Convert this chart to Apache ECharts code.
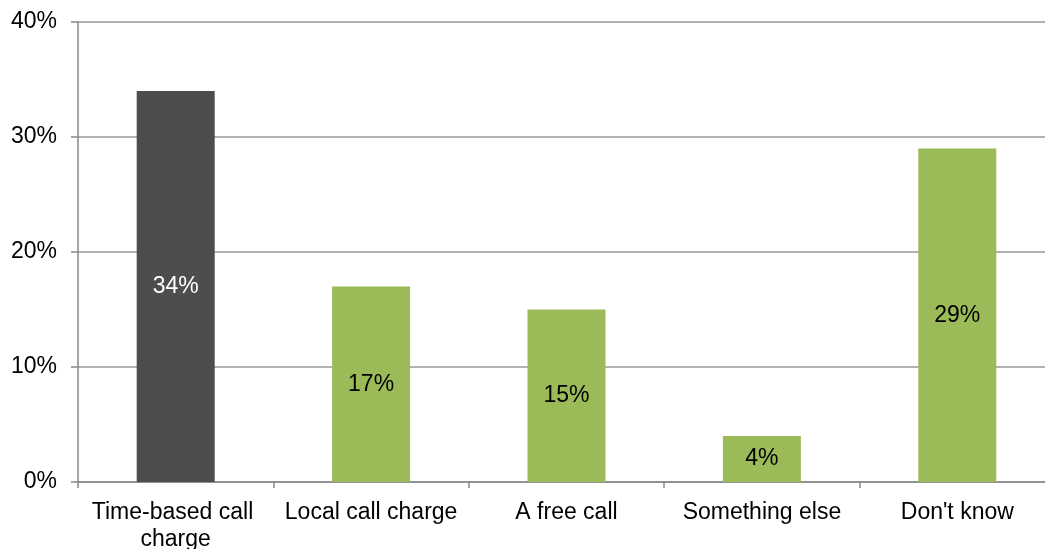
<!DOCTYPE html>
<html>
<head>
<meta charset="utf-8">
<script src="https://cdn.jsdelivr.net/npm/echarts@6/dist/echarts.min.js"></script>
<style>
  html, body { margin: 0; padding: 0; background: #fff; }
  #chart { width: 1045px; height: 549px; }
</style>
</head>
<body>
<div id="chart"></div>
<script>
const categories = ['Time-based call charge', 'Local call charge', 'A free call', 'Something else', "Don't know"];
const values = [34, 17, 15, 4, 29];
const barColors = ['#4d4d4f', '#9bbb59', '#9bbb59', '#9bbb59', '#9bbb59'];
const labelColors = ['#ffffff', '#000000', '#000000', '#000000', '#000000'];

const chart = echarts.init(document.getElementById('chart'));
const font = 'Liberation Sans, Arial, sans-serif';

chart.setOption({
  animation: false,
  grid: { left: 78, top: 22, right: -10, bottom: 67, containLabel: false, outerBoundsMode: 'none' },
  xAxis: {
    type: 'category',
    data: categories,
    axisLine: { lineStyle: { color: '#888', width: 1.5 } },
    axisTick: { show: true, length: 6, lineStyle: { color: '#888', width: 1.5 } },
    axisLabel: {
      color: '#000', fontSize: 23, fontFamily: font, margin: 17,
      width: 192, overflow: 'break', lineHeight: 27, interval: 0
    }
  },
  yAxis: {
    type: 'value',
    min: 0, max: 40, interval: 10,
    axisLine: { show: true, lineStyle: { color: '#888', width: 1.5 } },
    axisTick: { show: true, length: 7, lineStyle: { color: '#888', width: 1.5 } },
    splitLine: { lineStyle: { color: '#999', width: 1.5 } },
    axisLabel: { color: '#000', fontSize: 23, fontFamily: font, margin: 21, formatter: '{value}%' }
  },
  series: [{
    type: 'bar',
    barWidth: 78,
    data: values.map((v, i) => ({
      value: v,
      itemStyle: { color: barColors[i] },
      label: { color: labelColors[i] }
    })),
    label: {
      show: true, position: 'inside', fontSize: 23, fontFamily: font,
      formatter: '{c}%'
    }
  }]
});
</script>
</body>
</html>
